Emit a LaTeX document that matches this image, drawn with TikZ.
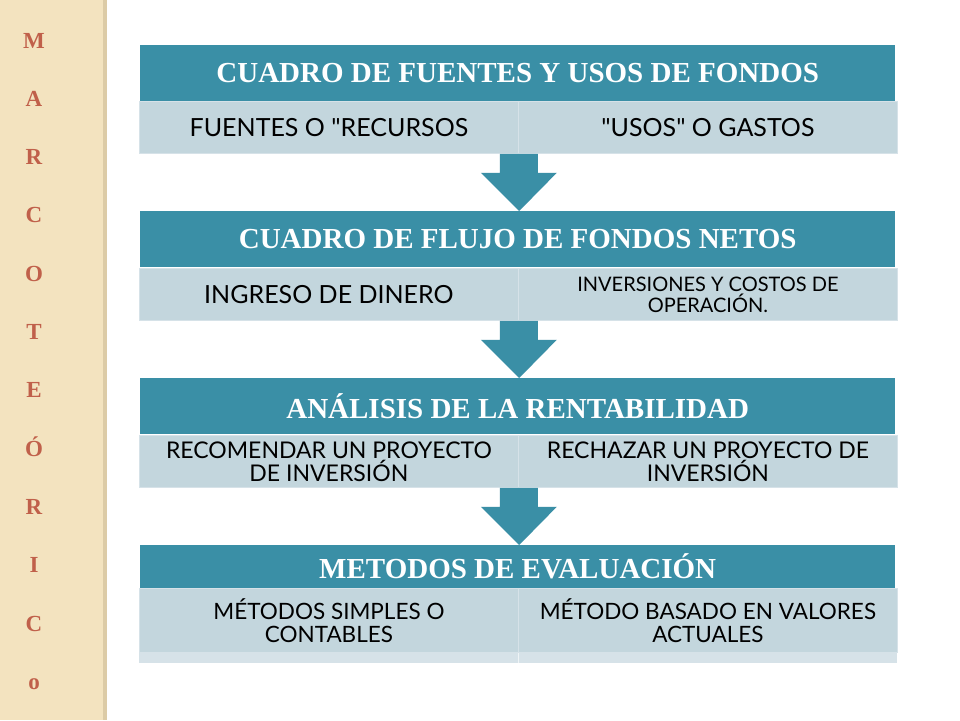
\documentclass[tikz,border=0pt]{standalone}
\usepackage{fontspec}
\setmainfont{Liberation Serif}
\newfontfamily\gillfont{Lato}
\usetikzlibrary{calc}
\definecolor{tealc}{HTML}{3A8FA6}
\definecolor{cellc}{HTML}{C3D6DD}
\definecolor{cellb}{HTML}{D6E2E8}
\definecolor{beigec}{HTML}{F3E3BF}
\definecolor{beiged}{HTML}{DCCBA6}
\definecolor{letc}{HTML}{C0604A}
\begin{document}
\begin{tikzpicture}[x=1pt,y=-1pt,
  hdr/.style={fill=tealc, text=white, font=\bfseries\fontsize{29}{32}\selectfont,
    minimum width=755pt, minimum height=56pt, inner sep=0pt, anchor=north west},
  cellbox/.style={fill=cellc, draw=cellb, line width=0.8pt, minimum width=379pt,
    minimum height=52pt, inner sep=0pt, align=center, anchor=north west,
    font=\gillfont\fontsize{25}{27}\selectfont},
  smalltxt/.style={font=\gillfont\fontsize{20}{21}\selectfont},
  midtxt/.style={font=\gillfont\fontsize{23}{23}\selectfont},
  lowtxt/.style={font=\gillfont\fontsize{22.5}{23}\selectfont},
  blockarrow/.style={fill=tealc},
  letter/.style={text=letc, font=\bfseries\fontsize{23}{25}\selectfont, anchor=base, inner sep=0pt}
]
\useasboundingbox (0,0) rectangle (960,720);
\fill[white] (0,0) rectangle (960,720);
% side strip
\fill[beiged] (0,0) rectangle (107,720);
\fill[beigec] (0,0) rectangle (103,720);
\foreach \ch [count=\k from 0] in {M,A,R,C,O,T,E,Ó,R,I,C,o}
  \node[letter] (let\k) at (34,{48+58.3*\k}) {\ch};

% block 1
\node[hdr] (h1) at (140,45) {CUADRO DE FUENTES Y USOS DE FONDOS};
\node[cellbox] (l1) at (139,101) {FUENTES O "RECURSOS};
\node[cellbox] (r1) at (518,101) {"USOS" O GASTOS};
% block 2
\node[hdr] (h2) at (140,211) {CUADRO DE FLUJO DE FONDOS NETOS};
\node[cellbox] (l2) at (139,268) {INGRESO DE DINERO};
\node[cellbox, smalltxt] (r2) at (518,268) {INVERSIONES Y COSTOS DE\\OPERACIÓN.};
% block 3
\node[hdr] (h3) at (140,378) {ANÁLISIS DE LA RENTABILIDAD};
\node[cellbox, midtxt] (l3) at (139,435) {RECOMENDAR UN PROYECTO\\DE INVERSIÓN};
\node[cellbox, midtxt] (r3) at (518,435) {RECHAZAR UN PROYECTO DE\\INVERSIÓN};
% block 4
\node[hdr, minimum height=43pt] (h4) at (140,545) {METODOS DE EVALUACIÓN};
\fill[cellb] (139,652) rectangle (897,663);
\draw[white!60!cellb, line width=0.8pt] (518,652) -- (518,663);
\node[cellbox, lowtxt, minimum height=64pt] (l4) at (139,588) {MÉTODOS SIMPLES O\\CONTABLES};
\node[cellbox, lowtxt, minimum height=64pt] (r4) at (518,588) {MÉTODO BASADO EN VALORES\\ACTUALES};

% block arrows
\foreach \a/\b in {l1/h2,l2/h3,l3/h4}{
  \fill[blockarrow]
    ($(\a.south east)+(-19,0)$) -- ($(\a.south east)+(19,0)$)
    -- ($(\a.south east)+(19,19)$) -- ($(\a.south east)+(38,19)$)
    -- ($(\b.north)+(1.5,0)$)
    -- ($(\a.south east)+(-38,19)$) -- ($(\a.south east)+(-19,19)$) -- cycle;
}
\end{tikzpicture}
\end{document}
